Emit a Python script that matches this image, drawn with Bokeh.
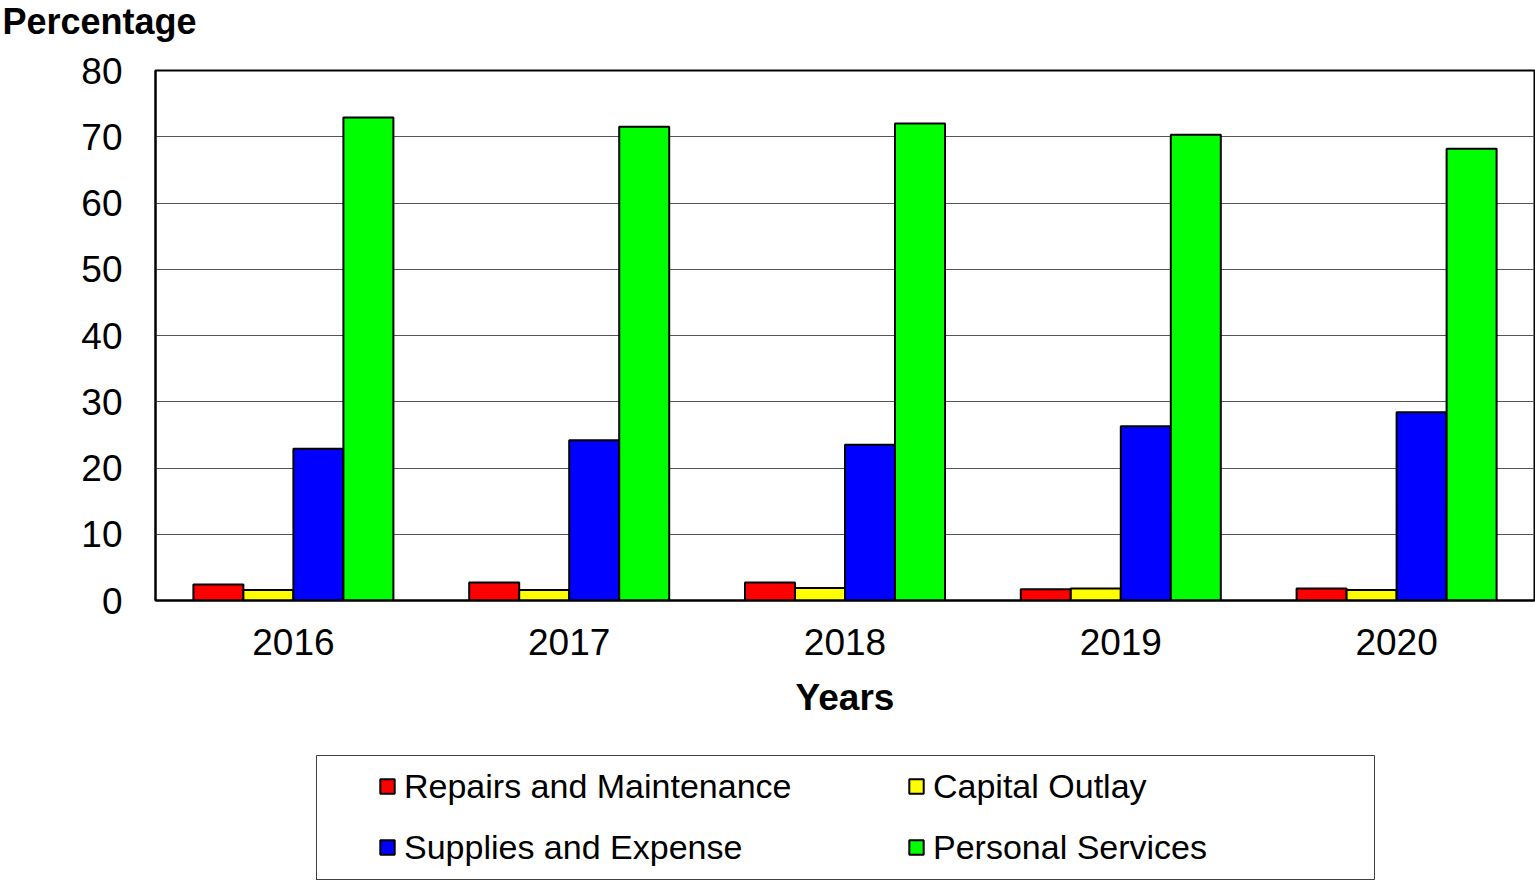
from bokeh.plotting import figure
from bokeh.models import ColumnDataSource, FactorRange, Legend, LegendItem, Spacer, SingleIntervalTicker
from bokeh.layouts import column, row
from bokeh.transform import dodge
from bokeh.embed import file_html
from bokeh.resources import INLINE

years = ["2016", "2017", "2018", "2019", "2020"]
series_names = ["Repairs and Maintenance", "Capital Outlay", "Supplies and Expense", "Personal Services"]
repairs = [2.4, 2.7, 2.7, 1.7, 1.8]
capital = [1.6, 1.6, 1.9, 1.8, 1.6]
supplies = [22.9, 24.2, 23.5, 26.3, 28.4]
personal = [72.9, 71.5, 72.0, 70.3, 68.2]
colors = ["#FF0000", "#FFFF00", "#0000FF", "#00FF00"]
y_ticks_step = 10

FONT = "Liberation Sans"

src = ColumnDataSource(dict(year=years, repairs=repairs, capital=capital,
                            supplies=supplies, personal=personal))
fields = ["repairs", "capital", "supplies", "personal"]

# heading ("Percentage") as the title of a thin figure above the chart
tf = figure(width=400, height=50, min_border=0, x_axis_location=None, y_axis_location=None,
            output_backend="svg", toolbar_location=None, title="Percentage")
tf.outline_line_color = None
tf.grid.visible = False
tf.title.text_font = FONT
tf.title.text_font_size = "36px"
tf.title.text_font_style = "bold"
tf.title.text_color = "black"
tf.title.align = "left"
tf.title.vertical_align = "top"
tf.title.offset = -153
tf.title.standoff = 0

p = figure(x_range=FactorRange(factors=years), y_range=(0, 80),
           frame_width=1379, frame_height=530,
           min_border_left=155, min_border_right=1, min_border_top=20, min_border_bottom=145,
           output_backend="svg", toolbar_location=None)

bw = 0.1813
offsets = [-1.5 * bw, -0.5 * bw, 0.5 * bw, 1.5 * bw]
for f, c, off in zip(fields, colors, offsets):
    p.vbar(x=dodge("year", off, range=p.x_range), top=f, bottom=0, width=bw, source=src,
           fill_color=c, line_color="black", line_width=2)

p.outline_line_color = "black"
p.outline_line_width = 2
p.xgrid.grid_line_color = None
p.ygrid.grid_line_color = "#555555"
p.ygrid.grid_line_width = 1

p.yaxis.ticker = SingleIntervalTicker(interval=y_ticks_step, num_minor_ticks=0)
for ax in (p.xaxis, p.yaxis):
    ax.axis_line_color = "black"
    ax.axis_line_width = 2
    ax.major_tick_line_color = None
    ax.minor_tick_line_color = None
    ax.major_tick_out = 0
    ax.major_tick_in = 0
    ax.major_label_text_font = FONT
    ax.major_label_text_font_size = "37px"
    ax.major_label_text_color = "black"
p.yaxis.major_label_standoff = 33
p.xaxis.major_label_standoff = 28
p.xaxis.axis_label = "Years"
p.xaxis.axis_label_text_font = FONT
p.xaxis.axis_label_text_font_size = "37px"
p.xaxis.axis_label_text_font_style = "bold"
p.xaxis.axis_label_text_color = "black"
p.xaxis.axis_label_standoff = 19

# legend panel
lp = figure(width=1060, height=126, min_border=1, x_range=(0, 1), y_range=(0, 1),
            x_axis_location=None, y_axis_location=None,
            output_backend="svg", toolbar_location=None)
lp.grid.visible = False
lp.outline_line_color = "#404040"
lp.outline_line_width = 1
rs = [lp.vbar(x=[-5], top=[0], width=0.1, fill_color=c, line_color="black", line_width=2) for c in colors]
legend = Legend(items=[LegendItem(label=n, renderers=[r]) for n, r in zip(series_names, rs)],
                location=(62, 12), orientation="horizontal", ncols=2,
                glyph_width=18, glyph_height=18, label_standoff=8, label_width=482,
                label_height=40, spacing=21, padding=0,
                border_line_alpha=0, background_fill_alpha=0,
                label_text_font=FONT, label_text_font_size="34px", label_text_color="black")
lp.add_layout(legend)

layout = column(tf, p, Spacer(height=9), row(Spacer(width=315), lp))

open("out.html", "w").write(file_html(layout, INLINE))
